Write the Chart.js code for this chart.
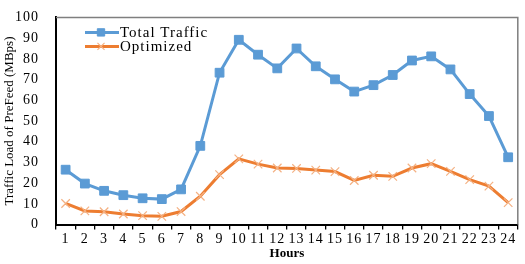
<!DOCTYPE html>
<html><head><meta charset="utf-8">
<script src="https://cdn.jsdelivr.net/npm/chart.js@4/dist/chart.umd.min.js"></script>
<style>html,body{margin:0;padding:0;background:#fff}#w{width:525px;height:264px;position:relative}</style>
</head><body><div id="w"><canvas id="c"></canvas></div>
<script>
const hours = ['1','2','3','4','5','6','7','8','9','10','11','12','13','14','15','16','17','18','19','20','21','22','23','24'];
const totalTraffic = [26.5,19.8,16.3,14.2,12.7,12.3,17,38,73.3,89.2,82,75.4,85,76.4,70.1,64.2,67.3,72.2,79.2,81.2,74.9,63,52.4,32.5];
const optimized = [10.2,6.6,6.2,5.1,4.3,4.0,6.3,13.7,24.1,31.7,29.2,27.3,27.1,26.3,25.6,21.3,23.8,23.3,27.3,29.4,25.7,21.7,18.6,10.6];
const yTicks = [0,10,20,30,40,50,60,70,80,90,100];

const FONT = 'Liberation Serif';

function patchTitles(chart){
  Object.values(chart.scales).forEach(s=>{
    if (s._tPatched) return;
    const orig = s.drawTitle.bind(s);
    s.drawTitle = function(){
      const ctx = this.ctx; const prev = ctx.letterSpacing;
      ctx.letterSpacing = '0px'; orig(); ctx.letterSpacing = prev;
    };
    s._tPatched = true;
  });
}
const spacing = {
  id:'spacing',
  beforeLayout(chart){ chart.ctx.letterSpacing = '1px'; },
  afterLayout(chart){ patchTitles(chart); },
  beforeDraw(chart){ chart.ctx.letterSpacing = '1px'; patchTitles(chart); }
};

const frameLegend = {
  id:'frameLegend',
  afterDatasetsDraw(chart){
    const {ctx, chartArea:a} = chart;
    ctx.save();
    ctx.strokeStyle = '#7f7f7f'; ctx.lineWidth = 1.5;
    ctx.beginPath(); ctx.moveTo(a.left, a.top); ctx.lineTo(a.right, a.top); ctx.lineTo(a.right, a.bottom); ctx.stroke();
    const dsets = chart.data.datasets;
    const x0 = a.left + 29;
    [[dsets[0], a.top+15],[dsets[1], a.top+29]].forEach(([ds,y])=>{
      ctx.strokeStyle = ds.borderColor; ctx.lineWidth = ds.borderWidth;
      ctx.beginPath(); ctx.moveTo(x0, y); ctx.lineTo(x0+34, y); ctx.stroke();
      ctx.fillStyle = ds.pointBackgroundColor || ds.backgroundColor;
      ctx.strokeStyle = ds.pointBorderColor; ctx.lineWidth = ds.pointBorderWidth;
      Chart.helpers.drawPoint(ctx, {pointStyle: ds.pointStyle, radius: ds.pointRadius - 1, borderWidth: ds.pointBorderWidth}, x0+16, y);
      ctx.fillStyle = '#000'; ctx.font = '15px "'+FONT+'"'; ctx.textBaseline='middle'; ctx.textAlign='left';
      ctx.letterSpacing = '1px';
      ctx.fillText(ds.label, x0+35, y+1);
    });
    ctx.restore();
  }
};

new Chart(document.getElementById('c'), {
  type:'line',
  data:{labels:hours, datasets:[
    {label:'Total Traffic', data:totalTraffic, borderColor:'#5b9bd5', backgroundColor:'#5b9bd5', borderWidth:3, pointStyle:'rect', pointRadius:6.2, pointBackgroundColor:'#5b9bd5', pointBorderColor:'#5b9bd5', pointBorderWidth:1, tension:0},
    {label:'Optimized', data:optimized, borderColor:'#ed7d31', backgroundColor:'#f4b183', borderWidth:3, pointStyle:'crossRot', pointRadius:6, pointBorderColor:'#f4b183', pointBorderWidth:1.2, tension:0}
  ]},
  options:{
    responsive:true, maintainAspectRatio:false, animation:false,
    layout:{padding:{left:2,right:5,top:6,bottom:3}},
    plugins:{legend:{display:false}, tooltip:{enabled:false}},
    scales:{
      x:{offset:true,
        grid:{display:true, drawOnChartArea:false, offset:true, color:'#000', tickLength:5, lineWidth:1.3},
        border:{color:'#000', width:2},
        ticks:{color:'#000', font:{family:FONT, size:14}, padding:1, maxRotation:0, autoSkip:false},
        title:{display:true, text:'Hours', color:'#000', font:{family:FONT, size:13, weight:'bold'}, padding:{top:-3,bottom:0}}
      },
      y:{min:0, max:100,
        afterBuildTicks(s){ s.ticks = yTicks.map(v=>({value:v})); },
        afterFit(s){ s.width = 54; },
        grid:{display:false},
        border:{color:'#000', width:2},
        ticks:{color:'#000', font:{family:FONT, size:14}, padding:9},
        title:{display:true, text:'Traffic Load of PreFeed (MBps)', color:'#000', font:{family:FONT, size:13}, padding:{top:0,bottom:2}}
      }
    }
  },
  plugins:[spacing, frameLegend]
});
</script></body></html>
